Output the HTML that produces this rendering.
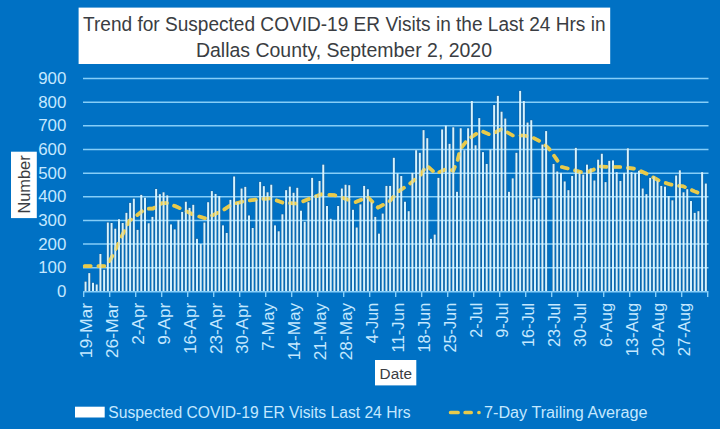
<!DOCTYPE html>
<html><head><meta charset="utf-8"><style>
html,body{margin:0;padding:0;background:#0071c4;width:720px;height:429px;overflow:hidden}
svg{display:block;font-family:"Liberation Sans",sans-serif}
</style></head><body>
<svg width="720" height="429" viewBox="0 0 720 429">
<rect x="0" y="0" width="720" height="429" fill="#0071c4"/>
<rect x="84.18" y="281.31" width="2.75" height="9.99" fill="#15558a"/>
<rect x="87.90" y="272.80" width="2.75" height="18.50" fill="#15558a"/>
<rect x="91.61" y="282.49" width="2.75" height="8.81" fill="#15558a"/>
<rect x="95.33" y="284.15" width="2.75" height="7.15" fill="#15558a"/>
<rect x="99.04" y="253.66" width="2.75" height="37.64" fill="#15558a"/>
<rect x="102.75" y="269.49" width="2.75" height="21.81" fill="#15558a"/>
<rect x="106.47" y="222.23" width="2.75" height="69.07" fill="#15558a"/>
<rect x="110.18" y="222.70" width="2.75" height="68.60" fill="#15558a"/>
<rect x="113.90" y="228.37" width="2.75" height="62.93" fill="#15558a"/>
<rect x="117.61" y="218.92" width="2.75" height="72.38" fill="#15558a"/>
<rect x="121.33" y="222.70" width="2.75" height="68.60" fill="#15558a"/>
<rect x="125.04" y="212.54" width="2.75" height="78.76" fill="#15558a"/>
<rect x="128.75" y="202.61" width="2.75" height="88.69" fill="#15558a"/>
<rect x="132.47" y="198.36" width="2.75" height="92.94" fill="#15558a"/>
<rect x="136.18" y="229.55" width="2.75" height="61.75" fill="#15558a"/>
<rect x="139.90" y="194.58" width="2.75" height="96.72" fill="#15558a"/>
<rect x="143.61" y="197.41" width="2.75" height="93.89" fill="#15558a"/>
<rect x="147.32" y="222.94" width="2.75" height="68.36" fill="#15558a"/>
<rect x="151.04" y="216.56" width="2.75" height="74.75" fill="#15558a"/>
<rect x="154.75" y="188.67" width="2.75" height="102.63" fill="#15558a"/>
<rect x="158.47" y="193.87" width="2.75" height="97.43" fill="#15558a"/>
<rect x="162.18" y="191.98" width="2.75" height="99.32" fill="#15558a"/>
<rect x="165.90" y="195.05" width="2.75" height="96.25" fill="#15558a"/>
<rect x="169.61" y="224.12" width="2.75" height="67.18" fill="#15558a"/>
<rect x="173.32" y="229.08" width="2.75" height="62.22" fill="#15558a"/>
<rect x="177.04" y="219.63" width="2.75" height="71.67" fill="#15558a"/>
<rect x="180.75" y="211.59" width="2.75" height="79.71" fill="#15558a"/>
<rect x="184.47" y="201.43" width="2.75" height="89.87" fill="#15558a"/>
<rect x="188.18" y="207.57" width="2.75" height="83.73" fill="#15558a"/>
<rect x="191.90" y="204.50" width="2.75" height="86.80" fill="#15558a"/>
<rect x="195.61" y="238.53" width="2.75" height="52.77" fill="#15558a"/>
<rect x="199.32" y="243.73" width="2.75" height="47.57" fill="#15558a"/>
<rect x="203.04" y="222.23" width="2.75" height="69.07" fill="#15558a"/>
<rect x="206.75" y="201.90" width="2.75" height="89.40" fill="#15558a"/>
<rect x="210.47" y="190.79" width="2.75" height="100.51" fill="#15558a"/>
<rect x="214.18" y="193.63" width="2.75" height="97.67" fill="#15558a"/>
<rect x="217.90" y="195.76" width="2.75" height="95.54" fill="#15558a"/>
<rect x="221.61" y="225.06" width="2.75" height="66.24" fill="#15558a"/>
<rect x="225.32" y="232.63" width="2.75" height="58.67" fill="#15558a"/>
<rect x="229.04" y="199.54" width="2.75" height="91.76" fill="#15558a"/>
<rect x="232.75" y="176.14" width="2.75" height="115.16" fill="#15558a"/>
<rect x="236.47" y="201.90" width="2.75" height="89.40" fill="#15558a"/>
<rect x="240.18" y="188.19" width="2.75" height="103.11" fill="#15558a"/>
<rect x="243.90" y="186.54" width="2.75" height="104.76" fill="#15558a"/>
<rect x="247.61" y="215.14" width="2.75" height="76.16" fill="#15558a"/>
<rect x="251.32" y="227.66" width="2.75" height="63.64" fill="#15558a"/>
<rect x="255.04" y="199.54" width="2.75" height="91.76" fill="#15558a"/>
<rect x="258.75" y="181.58" width="2.75" height="109.72" fill="#15558a"/>
<rect x="262.47" y="185.83" width="2.75" height="105.47" fill="#15558a"/>
<rect x="266.18" y="191.98" width="2.75" height="99.32" fill="#15558a"/>
<rect x="269.90" y="184.41" width="2.75" height="106.89" fill="#15558a"/>
<rect x="273.61" y="225.06" width="2.75" height="66.24" fill="#15558a"/>
<rect x="277.32" y="230.97" width="2.75" height="60.33" fill="#15558a"/>
<rect x="281.04" y="213.96" width="2.75" height="77.34" fill="#15558a"/>
<rect x="284.75" y="189.85" width="2.75" height="101.45" fill="#15558a"/>
<rect x="288.47" y="186.30" width="2.75" height="105.00" fill="#15558a"/>
<rect x="292.18" y="192.45" width="2.75" height="98.85" fill="#15558a"/>
<rect x="295.90" y="187.49" width="2.75" height="103.81" fill="#15558a"/>
<rect x="299.61" y="210.41" width="2.75" height="80.89" fill="#15558a"/>
<rect x="303.32" y="221.52" width="2.75" height="69.78" fill="#15558a"/>
<rect x="307.04" y="201.90" width="2.75" height="89.40" fill="#15558a"/>
<rect x="310.75" y="177.56" width="2.75" height="113.74" fill="#15558a"/>
<rect x="314.47" y="194.58" width="2.75" height="96.72" fill="#15558a"/>
<rect x="318.18" y="180.63" width="2.75" height="110.67" fill="#15558a"/>
<rect x="321.90" y="164.33" width="2.75" height="126.97" fill="#15558a"/>
<rect x="325.61" y="205.68" width="2.75" height="85.62" fill="#15558a"/>
<rect x="329.32" y="218.45" width="2.75" height="72.85" fill="#15558a"/>
<rect x="333.04" y="219.63" width="2.75" height="71.67" fill="#15558a"/>
<rect x="336.75" y="205.68" width="2.75" height="85.62" fill="#15558a"/>
<rect x="340.47" y="188.19" width="2.75" height="103.11" fill="#15558a"/>
<rect x="344.18" y="184.41" width="2.75" height="106.89" fill="#15558a"/>
<rect x="347.90" y="184.89" width="2.75" height="106.41" fill="#15558a"/>
<rect x="351.61" y="209.47" width="2.75" height="81.83" fill="#15558a"/>
<rect x="355.32" y="227.19" width="2.75" height="64.11" fill="#15558a"/>
<rect x="359.04" y="204.03" width="2.75" height="87.27" fill="#15558a"/>
<rect x="362.75" y="185.60" width="2.75" height="105.70" fill="#15558a"/>
<rect x="366.47" y="188.90" width="2.75" height="102.40" fill="#15558a"/>
<rect x="370.18" y="201.90" width="2.75" height="89.40" fill="#15558a"/>
<rect x="373.90" y="216.56" width="2.75" height="74.75" fill="#15558a"/>
<rect x="377.61" y="233.33" width="2.75" height="57.97" fill="#15558a"/>
<rect x="381.32" y="213.25" width="2.75" height="78.05" fill="#15558a"/>
<rect x="385.04" y="185.60" width="2.75" height="105.70" fill="#15558a"/>
<rect x="388.75" y="185.60" width="2.75" height="105.70" fill="#15558a"/>
<rect x="392.47" y="157.47" width="2.75" height="133.83" fill="#15558a"/>
<rect x="396.18" y="173.07" width="2.75" height="118.23" fill="#15558a"/>
<rect x="399.90" y="175.67" width="2.75" height="115.63" fill="#15558a"/>
<rect x="403.61" y="201.43" width="2.75" height="89.87" fill="#15558a"/>
<rect x="407.32" y="210.88" width="2.75" height="80.42" fill="#15558a"/>
<rect x="411.04" y="172.60" width="2.75" height="118.70" fill="#15558a"/>
<rect x="414.75" y="149.91" width="2.75" height="141.39" fill="#15558a"/>
<rect x="418.47" y="152.51" width="2.75" height="138.79" fill="#15558a"/>
<rect x="422.18" y="129.82" width="2.75" height="161.48" fill="#15558a"/>
<rect x="425.90" y="137.86" width="2.75" height="153.44" fill="#15558a"/>
<rect x="429.61" y="238.53" width="2.75" height="52.77" fill="#15558a"/>
<rect x="433.32" y="234.28" width="2.75" height="57.02" fill="#15558a"/>
<rect x="437.04" y="177.56" width="2.75" height="113.74" fill="#15558a"/>
<rect x="440.75" y="129.11" width="2.75" height="162.19" fill="#15558a"/>
<rect x="444.47" y="125.33" width="2.75" height="165.97" fill="#15558a"/>
<rect x="448.18" y="143.53" width="2.75" height="147.77" fill="#15558a"/>
<rect x="451.90" y="126.98" width="2.75" height="164.32" fill="#15558a"/>
<rect x="455.61" y="191.50" width="2.75" height="99.80" fill="#15558a"/>
<rect x="459.32" y="127.93" width="2.75" height="163.37" fill="#15558a"/>
<rect x="463.04" y="149.91" width="2.75" height="141.39" fill="#15558a"/>
<rect x="466.75" y="127.93" width="2.75" height="163.37" fill="#15558a"/>
<rect x="470.47" y="100.75" width="2.75" height="190.55" fill="#15558a"/>
<rect x="474.18" y="144.95" width="2.75" height="146.35" fill="#15558a"/>
<rect x="477.90" y="117.77" width="2.75" height="173.53" fill="#15558a"/>
<rect x="481.61" y="151.80" width="2.75" height="139.50" fill="#15558a"/>
<rect x="485.32" y="163.62" width="2.75" height="127.68" fill="#15558a"/>
<rect x="489.04" y="149.20" width="2.75" height="142.10" fill="#15558a"/>
<rect x="492.75" y="104.77" width="2.75" height="186.53" fill="#15558a"/>
<rect x="496.47" y="95.55" width="2.75" height="195.75" fill="#15558a"/>
<rect x="500.18" y="111.39" width="2.75" height="179.91" fill="#15558a"/>
<rect x="503.90" y="118.24" width="2.75" height="173.06" fill="#15558a"/>
<rect x="507.61" y="191.50" width="2.75" height="99.80" fill="#15558a"/>
<rect x="511.33" y="178.03" width="2.75" height="113.27" fill="#15558a"/>
<rect x="515.04" y="152.51" width="2.75" height="138.79" fill="#15558a"/>
<rect x="518.75" y="90.59" width="2.75" height="200.71" fill="#15558a"/>
<rect x="522.47" y="100.75" width="2.75" height="190.55" fill="#15558a"/>
<rect x="526.18" y="122.26" width="2.75" height="169.04" fill="#15558a"/>
<rect x="529.90" y="119.89" width="2.75" height="171.41" fill="#15558a"/>
<rect x="533.61" y="199.07" width="2.75" height="92.23" fill="#15558a"/>
<rect x="537.33" y="198.12" width="2.75" height="93.18" fill="#15558a"/>
<rect x="541.04" y="144.24" width="2.75" height="147.06" fill="#15558a"/>
<rect x="544.75" y="130.77" width="2.75" height="160.53" fill="#15558a"/>
<rect x="552.18" y="163.62" width="2.75" height="127.68" fill="#15558a"/>
<rect x="555.90" y="171.18" width="2.75" height="120.12" fill="#15558a"/>
<rect x="559.61" y="172.60" width="2.75" height="118.70" fill="#15558a"/>
<rect x="563.33" y="181.11" width="2.75" height="110.19" fill="#15558a"/>
<rect x="567.04" y="189.85" width="2.75" height="101.45" fill="#15558a"/>
<rect x="570.75" y="175.67" width="2.75" height="115.63" fill="#15558a"/>
<rect x="574.47" y="147.55" width="2.75" height="143.75" fill="#15558a"/>
<rect x="578.18" y="171.18" width="2.75" height="120.12" fill="#15558a"/>
<rect x="581.90" y="174.25" width="2.75" height="117.05" fill="#15558a"/>
<rect x="585.61" y="164.33" width="2.75" height="126.97" fill="#15558a"/>
<rect x="589.33" y="168.11" width="2.75" height="123.19" fill="#15558a"/>
<rect x="593.04" y="180.16" width="2.75" height="111.14" fill="#15558a"/>
<rect x="596.75" y="159.36" width="2.75" height="131.94" fill="#15558a"/>
<rect x="600.47" y="153.45" width="2.75" height="137.85" fill="#15558a"/>
<rect x="604.18" y="181.81" width="2.75" height="109.49" fill="#15558a"/>
<rect x="607.90" y="160.54" width="2.75" height="130.76" fill="#15558a"/>
<rect x="611.61" y="160.07" width="2.75" height="131.23" fill="#15558a"/>
<rect x="615.33" y="171.89" width="2.75" height="119.41" fill="#15558a"/>
<rect x="619.04" y="180.63" width="2.75" height="110.67" fill="#15558a"/>
<rect x="622.75" y="172.60" width="2.75" height="118.70" fill="#15558a"/>
<rect x="626.47" y="148.02" width="2.75" height="143.28" fill="#15558a"/>
<rect x="630.18" y="171.89" width="2.75" height="119.41" fill="#15558a"/>
<rect x="633.90" y="172.60" width="2.75" height="118.70" fill="#15558a"/>
<rect x="637.61" y="170.47" width="2.75" height="120.83" fill="#15558a"/>
<rect x="641.33" y="188.19" width="2.75" height="103.11" fill="#15558a"/>
<rect x="645.04" y="193.87" width="2.75" height="97.43" fill="#15558a"/>
<rect x="648.75" y="177.56" width="2.75" height="113.74" fill="#15558a"/>
<rect x="652.47" y="176.14" width="2.75" height="115.16" fill="#15558a"/>
<rect x="656.18" y="180.16" width="2.75" height="111.14" fill="#15558a"/>
<rect x="659.90" y="185.60" width="2.75" height="105.70" fill="#15558a"/>
<rect x="663.61" y="186.30" width="2.75" height="105.00" fill="#15558a"/>
<rect x="667.33" y="195.76" width="2.75" height="95.54" fill="#15558a"/>
<rect x="671.04" y="200.01" width="2.75" height="91.29" fill="#15558a"/>
<rect x="674.75" y="175.20" width="2.75" height="116.10" fill="#15558a"/>
<rect x="678.47" y="170.00" width="2.75" height="121.30" fill="#15558a"/>
<rect x="682.18" y="191.98" width="2.75" height="99.32" fill="#15558a"/>
<rect x="685.90" y="188.90" width="2.75" height="102.40" fill="#15558a"/>
<rect x="689.61" y="200.72" width="2.75" height="90.58" fill="#15558a"/>
<rect x="693.33" y="212.54" width="2.75" height="78.76" fill="#15558a"/>
<rect x="697.04" y="210.88" width="2.75" height="80.42" fill="#15558a"/>
<rect x="700.75" y="171.89" width="2.75" height="119.41" fill="#15558a"/>
<rect x="704.47" y="183.23" width="2.75" height="108.07" fill="#15558a"/>
<line x1="83" x2="708.5" y1="267.67" y2="267.67" stroke="#86cef8" stroke-width="1.5"/>
<line x1="83" x2="708.5" y1="244.03" y2="244.03" stroke="#86cef8" stroke-width="1.5"/>
<line x1="83" x2="708.5" y1="220.40" y2="220.40" stroke="#86cef8" stroke-width="1.5"/>
<line x1="83" x2="708.5" y1="196.77" y2="196.77" stroke="#86cef8" stroke-width="1.5"/>
<line x1="83" x2="708.5" y1="173.13" y2="173.13" stroke="#86cef8" stroke-width="1.5"/>
<line x1="83" x2="708.5" y1="149.50" y2="149.50" stroke="#86cef8" stroke-width="1.5"/>
<line x1="83" x2="708.5" y1="125.87" y2="125.87" stroke="#86cef8" stroke-width="1.5"/>
<line x1="83" x2="708.5" y1="102.23" y2="102.23" stroke="#86cef8" stroke-width="1.5"/>
<line x1="83" x2="708.5" y1="78.60" y2="78.60" stroke="#86cef8" stroke-width="1.5"/>
<polyline points="84.70,266.10 106.10,266.10 110.80,259.00 117.30,246.00 122.90,233.80 129.40,220.80 136.00,216.10 145.30,208.70 152.80,208.70 162.10,203.10 167.70,203.10 175.60,206.30 184.00,210.10 194.30,215.10 205.40,218.30 212.90,215.10 222.20,210.80 231.60,204.50 244.60,201.10 257.70,199.30 271.20,198.40 282.40,202.60 297.30,203.60 310.40,198.40 321.60,194.30 334.60,195.20 345.80,198.90 355.60,202.00 367.70,197.00 378.00,207.60 389.20,201.60 398.50,191.40 409.70,183.90 420.90,174.60 426.50,165.30 435.80,173.70 448.40,168.20 453.10,171.00 457.70,159.80 460.50,148.60 468.00,139.30 477.30,133.20 482.00,131.20 490.20,134.80 501.60,129.00 512.80,135.50 524.00,135.50 531.90,137.10 541.20,141.80 548.70,148.30 556.10,158.60 561.70,167.00 572.90,169.80 584.10,173.10 593.40,169.80 599.00,166.40 610.20,167.00 621.40,167.00 634.90,168.70 648.00,174.30 659.20,180.80 670.40,184.50 683.40,186.40 694.60,191.40 702.10,194.40" fill="none" stroke="#e8ca4c" stroke-width="3.7" stroke-dasharray="6 7.7" stroke-linecap="round" stroke-linejoin="round"/>
<rect x="84.56" y="281.61" width="2.0" height="9.69" fill="#d6f3ff"/>
<rect x="88.27" y="273.10" width="2.0" height="18.20" fill="#d6f3ff"/>
<rect x="91.99" y="282.79" width="2.0" height="8.51" fill="#d6f3ff"/>
<rect x="95.70" y="284.45" width="2.0" height="6.85" fill="#d6f3ff"/>
<rect x="99.41" y="253.96" width="2.0" height="37.34" fill="#d6f3ff"/>
<rect x="103.13" y="269.79" width="2.0" height="21.51" fill="#d6f3ff"/>
<rect x="106.84" y="222.53" width="2.0" height="68.77" fill="#d6f3ff"/>
<rect x="110.56" y="223.00" width="2.0" height="68.30" fill="#d6f3ff"/>
<rect x="114.27" y="228.67" width="2.0" height="62.63" fill="#d6f3ff"/>
<rect x="117.99" y="219.22" width="2.0" height="72.08" fill="#d6f3ff"/>
<rect x="121.70" y="223.00" width="2.0" height="68.30" fill="#d6f3ff"/>
<rect x="125.41" y="212.84" width="2.0" height="78.46" fill="#d6f3ff"/>
<rect x="129.13" y="202.91" width="2.0" height="88.39" fill="#d6f3ff"/>
<rect x="132.84" y="198.66" width="2.0" height="92.64" fill="#d6f3ff"/>
<rect x="136.56" y="229.85" width="2.0" height="61.45" fill="#d6f3ff"/>
<rect x="140.27" y="194.88" width="2.0" height="96.42" fill="#d6f3ff"/>
<rect x="143.99" y="197.71" width="2.0" height="93.59" fill="#d6f3ff"/>
<rect x="147.70" y="223.24" width="2.0" height="68.06" fill="#d6f3ff"/>
<rect x="151.41" y="216.86" width="2.0" height="74.45" fill="#d6f3ff"/>
<rect x="155.13" y="188.97" width="2.0" height="102.33" fill="#d6f3ff"/>
<rect x="158.84" y="194.17" width="2.0" height="97.13" fill="#d6f3ff"/>
<rect x="162.56" y="192.28" width="2.0" height="99.02" fill="#d6f3ff"/>
<rect x="166.27" y="195.35" width="2.0" height="95.95" fill="#d6f3ff"/>
<rect x="169.99" y="224.42" width="2.0" height="66.88" fill="#d6f3ff"/>
<rect x="173.70" y="229.38" width="2.0" height="61.92" fill="#d6f3ff"/>
<rect x="177.41" y="219.93" width="2.0" height="71.37" fill="#d6f3ff"/>
<rect x="181.13" y="211.89" width="2.0" height="79.41" fill="#d6f3ff"/>
<rect x="184.84" y="201.73" width="2.0" height="89.57" fill="#d6f3ff"/>
<rect x="188.56" y="207.87" width="2.0" height="83.43" fill="#d6f3ff"/>
<rect x="192.27" y="204.80" width="2.0" height="86.50" fill="#d6f3ff"/>
<rect x="195.99" y="238.83" width="2.0" height="52.47" fill="#d6f3ff"/>
<rect x="199.70" y="244.03" width="2.0" height="47.27" fill="#d6f3ff"/>
<rect x="203.41" y="222.53" width="2.0" height="68.77" fill="#d6f3ff"/>
<rect x="207.13" y="202.20" width="2.0" height="89.10" fill="#d6f3ff"/>
<rect x="210.84" y="191.09" width="2.0" height="100.21" fill="#d6f3ff"/>
<rect x="214.56" y="193.93" width="2.0" height="97.37" fill="#d6f3ff"/>
<rect x="218.27" y="196.06" width="2.0" height="95.24" fill="#d6f3ff"/>
<rect x="221.99" y="225.36" width="2.0" height="65.94" fill="#d6f3ff"/>
<rect x="225.70" y="232.93" width="2.0" height="58.37" fill="#d6f3ff"/>
<rect x="229.41" y="199.84" width="2.0" height="91.46" fill="#d6f3ff"/>
<rect x="233.13" y="176.44" width="2.0" height="114.86" fill="#d6f3ff"/>
<rect x="236.84" y="202.20" width="2.0" height="89.10" fill="#d6f3ff"/>
<rect x="240.56" y="188.50" width="2.0" height="102.81" fill="#d6f3ff"/>
<rect x="244.27" y="186.84" width="2.0" height="104.46" fill="#d6f3ff"/>
<rect x="247.99" y="215.44" width="2.0" height="75.86" fill="#d6f3ff"/>
<rect x="251.70" y="227.96" width="2.0" height="63.34" fill="#d6f3ff"/>
<rect x="255.41" y="199.84" width="2.0" height="91.46" fill="#d6f3ff"/>
<rect x="259.13" y="181.88" width="2.0" height="109.42" fill="#d6f3ff"/>
<rect x="262.84" y="186.13" width="2.0" height="105.17" fill="#d6f3ff"/>
<rect x="266.56" y="192.28" width="2.0" height="99.02" fill="#d6f3ff"/>
<rect x="270.27" y="184.71" width="2.0" height="106.59" fill="#d6f3ff"/>
<rect x="273.99" y="225.36" width="2.0" height="65.94" fill="#d6f3ff"/>
<rect x="277.70" y="231.27" width="2.0" height="60.03" fill="#d6f3ff"/>
<rect x="281.41" y="214.26" width="2.0" height="77.04" fill="#d6f3ff"/>
<rect x="285.13" y="190.15" width="2.0" height="101.15" fill="#d6f3ff"/>
<rect x="288.84" y="186.60" width="2.0" height="104.70" fill="#d6f3ff"/>
<rect x="292.56" y="192.75" width="2.0" height="98.55" fill="#d6f3ff"/>
<rect x="296.27" y="187.79" width="2.0" height="103.51" fill="#d6f3ff"/>
<rect x="299.99" y="210.71" width="2.0" height="80.59" fill="#d6f3ff"/>
<rect x="303.70" y="221.82" width="2.0" height="69.48" fill="#d6f3ff"/>
<rect x="307.41" y="202.20" width="2.0" height="89.10" fill="#d6f3ff"/>
<rect x="311.13" y="177.86" width="2.0" height="113.44" fill="#d6f3ff"/>
<rect x="314.84" y="194.88" width="2.0" height="96.42" fill="#d6f3ff"/>
<rect x="318.56" y="180.93" width="2.0" height="110.37" fill="#d6f3ff"/>
<rect x="322.27" y="164.63" width="2.0" height="126.67" fill="#d6f3ff"/>
<rect x="325.99" y="205.98" width="2.0" height="85.32" fill="#d6f3ff"/>
<rect x="329.70" y="218.75" width="2.0" height="72.55" fill="#d6f3ff"/>
<rect x="333.41" y="219.93" width="2.0" height="71.37" fill="#d6f3ff"/>
<rect x="337.13" y="205.98" width="2.0" height="85.32" fill="#d6f3ff"/>
<rect x="340.84" y="188.50" width="2.0" height="102.81" fill="#d6f3ff"/>
<rect x="344.56" y="184.71" width="2.0" height="106.59" fill="#d6f3ff"/>
<rect x="348.27" y="185.19" width="2.0" height="106.11" fill="#d6f3ff"/>
<rect x="351.99" y="209.77" width="2.0" height="81.53" fill="#d6f3ff"/>
<rect x="355.70" y="227.49" width="2.0" height="63.81" fill="#d6f3ff"/>
<rect x="359.41" y="204.33" width="2.0" height="86.97" fill="#d6f3ff"/>
<rect x="363.13" y="185.90" width="2.0" height="105.40" fill="#d6f3ff"/>
<rect x="366.84" y="189.20" width="2.0" height="102.10" fill="#d6f3ff"/>
<rect x="370.56" y="202.20" width="2.0" height="89.10" fill="#d6f3ff"/>
<rect x="374.27" y="216.86" width="2.0" height="74.45" fill="#d6f3ff"/>
<rect x="377.99" y="233.63" width="2.0" height="57.67" fill="#d6f3ff"/>
<rect x="381.70" y="213.55" width="2.0" height="77.75" fill="#d6f3ff"/>
<rect x="385.41" y="185.90" width="2.0" height="105.40" fill="#d6f3ff"/>
<rect x="389.13" y="185.90" width="2.0" height="105.40" fill="#d6f3ff"/>
<rect x="392.84" y="157.77" width="2.0" height="133.53" fill="#d6f3ff"/>
<rect x="396.56" y="173.37" width="2.0" height="117.93" fill="#d6f3ff"/>
<rect x="400.27" y="175.97" width="2.0" height="115.33" fill="#d6f3ff"/>
<rect x="403.99" y="201.73" width="2.0" height="89.57" fill="#d6f3ff"/>
<rect x="407.70" y="211.18" width="2.0" height="80.12" fill="#d6f3ff"/>
<rect x="411.41" y="172.90" width="2.0" height="118.40" fill="#d6f3ff"/>
<rect x="415.13" y="150.21" width="2.0" height="141.09" fill="#d6f3ff"/>
<rect x="418.84" y="152.81" width="2.0" height="138.49" fill="#d6f3ff"/>
<rect x="422.56" y="130.12" width="2.0" height="161.18" fill="#d6f3ff"/>
<rect x="426.27" y="138.16" width="2.0" height="153.14" fill="#d6f3ff"/>
<rect x="429.99" y="238.83" width="2.0" height="52.47" fill="#d6f3ff"/>
<rect x="433.70" y="234.58" width="2.0" height="56.72" fill="#d6f3ff"/>
<rect x="437.41" y="177.86" width="2.0" height="113.44" fill="#d6f3ff"/>
<rect x="441.13" y="129.41" width="2.0" height="161.89" fill="#d6f3ff"/>
<rect x="444.84" y="125.63" width="2.0" height="165.67" fill="#d6f3ff"/>
<rect x="448.56" y="143.83" width="2.0" height="147.47" fill="#d6f3ff"/>
<rect x="452.27" y="127.28" width="2.0" height="164.02" fill="#d6f3ff"/>
<rect x="455.99" y="191.80" width="2.0" height="99.50" fill="#d6f3ff"/>
<rect x="459.70" y="128.23" width="2.0" height="163.07" fill="#d6f3ff"/>
<rect x="463.41" y="150.21" width="2.0" height="141.09" fill="#d6f3ff"/>
<rect x="467.13" y="128.23" width="2.0" height="163.07" fill="#d6f3ff"/>
<rect x="470.84" y="101.05" width="2.0" height="190.25" fill="#d6f3ff"/>
<rect x="474.56" y="145.25" width="2.0" height="146.05" fill="#d6f3ff"/>
<rect x="478.27" y="118.07" width="2.0" height="173.23" fill="#d6f3ff"/>
<rect x="481.99" y="152.10" width="2.0" height="139.20" fill="#d6f3ff"/>
<rect x="485.70" y="163.92" width="2.0" height="127.38" fill="#d6f3ff"/>
<rect x="489.41" y="149.50" width="2.0" height="141.80" fill="#d6f3ff"/>
<rect x="493.13" y="105.07" width="2.0" height="186.23" fill="#d6f3ff"/>
<rect x="496.84" y="95.85" width="2.0" height="195.45" fill="#d6f3ff"/>
<rect x="500.56" y="111.69" width="2.0" height="179.61" fill="#d6f3ff"/>
<rect x="504.27" y="118.54" width="2.0" height="172.76" fill="#d6f3ff"/>
<rect x="507.99" y="191.80" width="2.0" height="99.50" fill="#d6f3ff"/>
<rect x="511.70" y="178.33" width="2.0" height="112.97" fill="#d6f3ff"/>
<rect x="515.41" y="152.81" width="2.0" height="138.49" fill="#d6f3ff"/>
<rect x="519.13" y="90.89" width="2.0" height="200.41" fill="#d6f3ff"/>
<rect x="522.84" y="101.05" width="2.0" height="190.25" fill="#d6f3ff"/>
<rect x="526.56" y="122.56" width="2.0" height="168.74" fill="#d6f3ff"/>
<rect x="530.27" y="120.19" width="2.0" height="171.11" fill="#d6f3ff"/>
<rect x="533.99" y="199.37" width="2.0" height="91.93" fill="#d6f3ff"/>
<rect x="537.70" y="198.42" width="2.0" height="92.88" fill="#d6f3ff"/>
<rect x="541.41" y="144.54" width="2.0" height="146.76" fill="#d6f3ff"/>
<rect x="545.13" y="131.07" width="2.0" height="160.23" fill="#d6f3ff"/>
<rect x="552.56" y="163.92" width="2.0" height="127.38" fill="#d6f3ff"/>
<rect x="556.27" y="171.48" width="2.0" height="119.82" fill="#d6f3ff"/>
<rect x="559.99" y="172.90" width="2.0" height="118.40" fill="#d6f3ff"/>
<rect x="563.70" y="181.41" width="2.0" height="109.89" fill="#d6f3ff"/>
<rect x="567.41" y="190.15" width="2.0" height="101.15" fill="#d6f3ff"/>
<rect x="571.13" y="175.97" width="2.0" height="115.33" fill="#d6f3ff"/>
<rect x="574.84" y="147.85" width="2.0" height="143.45" fill="#d6f3ff"/>
<rect x="578.56" y="171.48" width="2.0" height="119.82" fill="#d6f3ff"/>
<rect x="582.27" y="174.55" width="2.0" height="116.75" fill="#d6f3ff"/>
<rect x="585.99" y="164.63" width="2.0" height="126.67" fill="#d6f3ff"/>
<rect x="589.70" y="168.41" width="2.0" height="122.89" fill="#d6f3ff"/>
<rect x="593.41" y="180.46" width="2.0" height="110.84" fill="#d6f3ff"/>
<rect x="597.13" y="159.66" width="2.0" height="131.64" fill="#d6f3ff"/>
<rect x="600.84" y="153.75" width="2.0" height="137.55" fill="#d6f3ff"/>
<rect x="604.56" y="182.11" width="2.0" height="109.19" fill="#d6f3ff"/>
<rect x="608.27" y="160.84" width="2.0" height="130.46" fill="#d6f3ff"/>
<rect x="611.99" y="160.37" width="2.0" height="130.93" fill="#d6f3ff"/>
<rect x="615.70" y="172.19" width="2.0" height="119.11" fill="#d6f3ff"/>
<rect x="619.41" y="180.93" width="2.0" height="110.37" fill="#d6f3ff"/>
<rect x="623.13" y="172.90" width="2.0" height="118.40" fill="#d6f3ff"/>
<rect x="626.84" y="148.32" width="2.0" height="142.98" fill="#d6f3ff"/>
<rect x="630.56" y="172.19" width="2.0" height="119.11" fill="#d6f3ff"/>
<rect x="634.27" y="172.90" width="2.0" height="118.40" fill="#d6f3ff"/>
<rect x="637.99" y="170.77" width="2.0" height="120.53" fill="#d6f3ff"/>
<rect x="641.70" y="188.50" width="2.0" height="102.81" fill="#d6f3ff"/>
<rect x="645.41" y="194.17" width="2.0" height="97.13" fill="#d6f3ff"/>
<rect x="649.13" y="177.86" width="2.0" height="113.44" fill="#d6f3ff"/>
<rect x="652.84" y="176.44" width="2.0" height="114.86" fill="#d6f3ff"/>
<rect x="656.56" y="180.46" width="2.0" height="110.84" fill="#d6f3ff"/>
<rect x="660.27" y="185.90" width="2.0" height="105.40" fill="#d6f3ff"/>
<rect x="663.99" y="186.60" width="2.0" height="104.70" fill="#d6f3ff"/>
<rect x="667.70" y="196.06" width="2.0" height="95.24" fill="#d6f3ff"/>
<rect x="671.41" y="200.31" width="2.0" height="90.99" fill="#d6f3ff"/>
<rect x="675.13" y="175.50" width="2.0" height="115.80" fill="#d6f3ff"/>
<rect x="678.84" y="170.30" width="2.0" height="121.00" fill="#d6f3ff"/>
<rect x="682.56" y="192.28" width="2.0" height="99.02" fill="#d6f3ff"/>
<rect x="686.27" y="189.20" width="2.0" height="102.10" fill="#d6f3ff"/>
<rect x="689.99" y="201.02" width="2.0" height="90.28" fill="#d6f3ff"/>
<rect x="693.70" y="212.84" width="2.0" height="78.46" fill="#d6f3ff"/>
<rect x="697.41" y="211.18" width="2.0" height="80.12" fill="#d6f3ff"/>
<rect x="701.13" y="172.19" width="2.0" height="119.11" fill="#d6f3ff"/>
<rect x="704.84" y="183.53" width="2.0" height="107.77" fill="#d6f3ff"/>
<polyline points="84.70,266.10 106.10,266.10 110.80,259.00 117.30,246.00 122.90,233.80 129.40,220.80 136.00,216.10 145.30,208.70 152.80,208.70 162.10,203.10 167.70,203.10 175.60,206.30 184.00,210.10 194.30,215.10 205.40,218.30 212.90,215.10 222.20,210.80 231.60,204.50 244.60,201.10 257.70,199.30 271.20,198.40 282.40,202.60 297.30,203.60 310.40,198.40 321.60,194.30 334.60,195.20 345.80,198.90 355.60,202.00 367.70,197.00 378.00,207.60 389.20,201.60 398.50,191.40 409.70,183.90 420.90,174.60 426.50,165.30 435.80,173.70 448.40,168.20 453.10,171.00 457.70,159.80 460.50,148.60 468.00,139.30 477.30,133.20 482.00,131.20 490.20,134.80 501.60,129.00 512.80,135.50 524.00,135.50 531.90,137.10 541.20,141.80 548.70,148.30 556.10,158.60 561.70,167.00 572.90,169.80 584.10,173.10 593.40,169.80 599.00,166.40 610.20,167.00 621.40,167.00 634.90,168.70 648.00,174.30 659.20,180.80 670.40,184.50 683.40,186.40 694.60,191.40 702.10,194.40" fill="none" stroke="#e8ca4c" stroke-opacity="0.4" stroke-width="3.7" stroke-dasharray="6 7.7" stroke-linecap="round" stroke-linejoin="round"/>
<line x1="83.5" x2="708.2" y1="291.80" y2="291.80" stroke="#86cef8" stroke-width="1.4"/>
<line x1="83.70" x2="83.70" y1="291.30" y2="296.90" stroke="#86cef8" stroke-width="1.4"/>
<line x1="109.70" x2="109.70" y1="291.30" y2="296.90" stroke="#86cef8" stroke-width="1.4"/>
<line x1="135.70" x2="135.70" y1="291.30" y2="296.90" stroke="#86cef8" stroke-width="1.4"/>
<line x1="161.70" x2="161.70" y1="291.30" y2="296.90" stroke="#86cef8" stroke-width="1.4"/>
<line x1="187.70" x2="187.70" y1="291.30" y2="296.90" stroke="#86cef8" stroke-width="1.4"/>
<line x1="213.70" x2="213.70" y1="291.30" y2="296.90" stroke="#86cef8" stroke-width="1.4"/>
<line x1="239.70" x2="239.70" y1="291.30" y2="296.90" stroke="#86cef8" stroke-width="1.4"/>
<line x1="265.70" x2="265.70" y1="291.30" y2="296.90" stroke="#86cef8" stroke-width="1.4"/>
<line x1="291.70" x2="291.70" y1="291.30" y2="296.90" stroke="#86cef8" stroke-width="1.4"/>
<line x1="317.70" x2="317.70" y1="291.30" y2="296.90" stroke="#86cef8" stroke-width="1.4"/>
<line x1="343.70" x2="343.70" y1="291.30" y2="296.90" stroke="#86cef8" stroke-width="1.4"/>
<line x1="369.70" x2="369.70" y1="291.30" y2="296.90" stroke="#86cef8" stroke-width="1.4"/>
<line x1="395.70" x2="395.70" y1="291.30" y2="296.90" stroke="#86cef8" stroke-width="1.4"/>
<line x1="421.70" x2="421.70" y1="291.30" y2="296.90" stroke="#86cef8" stroke-width="1.4"/>
<line x1="447.70" x2="447.70" y1="291.30" y2="296.90" stroke="#86cef8" stroke-width="1.4"/>
<line x1="473.70" x2="473.70" y1="291.30" y2="296.90" stroke="#86cef8" stroke-width="1.4"/>
<line x1="499.70" x2="499.70" y1="291.30" y2="296.90" stroke="#86cef8" stroke-width="1.4"/>
<line x1="525.70" x2="525.70" y1="291.30" y2="296.90" stroke="#86cef8" stroke-width="1.4"/>
<line x1="551.70" x2="551.70" y1="291.30" y2="296.90" stroke="#86cef8" stroke-width="1.4"/>
<line x1="577.70" x2="577.70" y1="291.30" y2="296.90" stroke="#86cef8" stroke-width="1.4"/>
<line x1="603.70" x2="603.70" y1="291.30" y2="296.90" stroke="#86cef8" stroke-width="1.4"/>
<line x1="629.70" x2="629.70" y1="291.30" y2="296.90" stroke="#86cef8" stroke-width="1.4"/>
<line x1="655.70" x2="655.70" y1="291.30" y2="296.90" stroke="#86cef8" stroke-width="1.4"/>
<line x1="681.70" x2="681.70" y1="291.30" y2="296.90" stroke="#86cef8" stroke-width="1.4"/>
<line x1="707.70" x2="707.70" y1="291.30" y2="296.90" stroke="#86cef8" stroke-width="1.4"/>
<text x="66.3" y="296.90" text-anchor="end" font-size="15.6" fill="#c4e8ff" textLength="9.38" lengthAdjust="spacingAndGlyphs">0</text>
<text x="66.3" y="273.27" text-anchor="end" font-size="15.6" fill="#c4e8ff" textLength="28.14" lengthAdjust="spacingAndGlyphs">100</text>
<text x="66.3" y="249.63" text-anchor="end" font-size="15.6" fill="#c4e8ff" textLength="28.14" lengthAdjust="spacingAndGlyphs">200</text>
<text x="66.3" y="226.00" text-anchor="end" font-size="15.6" fill="#c4e8ff" textLength="28.14" lengthAdjust="spacingAndGlyphs">300</text>
<text x="66.3" y="202.37" text-anchor="end" font-size="15.6" fill="#c4e8ff" textLength="28.14" lengthAdjust="spacingAndGlyphs">400</text>
<text x="66.3" y="178.73" text-anchor="end" font-size="15.6" fill="#c4e8ff" textLength="28.14" lengthAdjust="spacingAndGlyphs">500</text>
<text x="66.3" y="155.10" text-anchor="end" font-size="15.6" fill="#c4e8ff" textLength="28.14" lengthAdjust="spacingAndGlyphs">600</text>
<text x="66.3" y="131.47" text-anchor="end" font-size="15.6" fill="#c4e8ff" textLength="28.14" lengthAdjust="spacingAndGlyphs">700</text>
<text x="66.3" y="107.83" text-anchor="end" font-size="15.6" fill="#c4e8ff" textLength="28.14" lengthAdjust="spacingAndGlyphs">800</text>
<text x="66.3" y="84.20" text-anchor="end" font-size="15.6" fill="#c4e8ff" textLength="28.14" lengthAdjust="spacingAndGlyphs">900</text>
<text transform="translate(92.16,302.8) rotate(-90)" text-anchor="end" font-size="16.5" fill="#c4e8ff" textLength="55.56" lengthAdjust="spacingAndGlyphs">19-Mar</text>
<text transform="translate(118.16,302.8) rotate(-90)" text-anchor="end" font-size="16.5" fill="#c4e8ff" textLength="55.56" lengthAdjust="spacingAndGlyphs">26-Mar</text>
<text transform="translate(144.16,302.8) rotate(-90)" text-anchor="end" font-size="16.5" fill="#c4e8ff" textLength="41.92" lengthAdjust="spacingAndGlyphs">2-Apr</text>
<text transform="translate(170.16,302.8) rotate(-90)" text-anchor="end" font-size="16.5" fill="#c4e8ff" textLength="41.92" lengthAdjust="spacingAndGlyphs">9-Apr</text>
<text transform="translate(196.16,302.8) rotate(-90)" text-anchor="end" font-size="16.5" fill="#c4e8ff" textLength="51.30" lengthAdjust="spacingAndGlyphs">16-Apr</text>
<text transform="translate(222.16,302.8) rotate(-90)" text-anchor="end" font-size="16.5" fill="#c4e8ff" textLength="51.30" lengthAdjust="spacingAndGlyphs">23-Apr</text>
<text transform="translate(248.16,302.8) rotate(-90)" text-anchor="end" font-size="16.5" fill="#c4e8ff" textLength="51.30" lengthAdjust="spacingAndGlyphs">30-Apr</text>
<text transform="translate(274.16,302.8) rotate(-90)" text-anchor="end" font-size="16.5" fill="#c4e8ff" textLength="48.08" lengthAdjust="spacingAndGlyphs">7-May</text>
<text transform="translate(300.16,302.8) rotate(-90)" text-anchor="end" font-size="16.5" fill="#c4e8ff" textLength="57.46" lengthAdjust="spacingAndGlyphs">14-May</text>
<text transform="translate(326.16,302.8) rotate(-90)" text-anchor="end" font-size="16.5" fill="#c4e8ff" textLength="57.46" lengthAdjust="spacingAndGlyphs">21-May</text>
<text transform="translate(352.16,302.8) rotate(-90)" text-anchor="end" font-size="16.5" fill="#c4e8ff" textLength="57.46" lengthAdjust="spacingAndGlyphs">28-May</text>
<text transform="translate(378.16,302.8) rotate(-90)" text-anchor="end" font-size="16.5" fill="#c4e8ff" textLength="40.37" lengthAdjust="spacingAndGlyphs">4-Jun</text>
<text transform="translate(404.16,302.8) rotate(-90)" text-anchor="end" font-size="16.5" fill="#c4e8ff" textLength="49.75" lengthAdjust="spacingAndGlyphs">11-Jun</text>
<text transform="translate(430.16,302.8) rotate(-90)" text-anchor="end" font-size="16.5" fill="#c4e8ff" textLength="49.75" lengthAdjust="spacingAndGlyphs">18-Jun</text>
<text transform="translate(456.16,302.8) rotate(-90)" text-anchor="end" font-size="16.5" fill="#c4e8ff" textLength="49.75" lengthAdjust="spacingAndGlyphs">25-Jun</text>
<text transform="translate(482.16,302.8) rotate(-90)" text-anchor="end" font-size="16.5" fill="#c4e8ff" textLength="34.89" lengthAdjust="spacingAndGlyphs">2-Jul</text>
<text transform="translate(508.16,302.8) rotate(-90)" text-anchor="end" font-size="16.5" fill="#c4e8ff" textLength="34.89" lengthAdjust="spacingAndGlyphs">9-Jul</text>
<text transform="translate(534.16,302.8) rotate(-90)" text-anchor="end" font-size="16.5" fill="#c4e8ff" textLength="44.27" lengthAdjust="spacingAndGlyphs">16-Jul</text>
<text transform="translate(560.16,302.8) rotate(-90)" text-anchor="end" font-size="16.5" fill="#c4e8ff" textLength="44.27" lengthAdjust="spacingAndGlyphs">23-Jul</text>
<text transform="translate(586.16,302.8) rotate(-90)" text-anchor="end" font-size="16.5" fill="#c4e8ff" textLength="44.27" lengthAdjust="spacingAndGlyphs">30-Jul</text>
<text transform="translate(612.16,302.8) rotate(-90)" text-anchor="end" font-size="16.5" fill="#c4e8ff" textLength="44.18" lengthAdjust="spacingAndGlyphs">6-Aug</text>
<text transform="translate(638.16,302.8) rotate(-90)" text-anchor="end" font-size="16.5" fill="#c4e8ff" textLength="53.56" lengthAdjust="spacingAndGlyphs">13-Aug</text>
<text transform="translate(664.16,302.8) rotate(-90)" text-anchor="end" font-size="16.5" fill="#c4e8ff" textLength="53.56" lengthAdjust="spacingAndGlyphs">20-Aug</text>
<text transform="translate(690.16,302.8) rotate(-90)" text-anchor="end" font-size="16.5" fill="#c4e8ff" textLength="53.56" lengthAdjust="spacingAndGlyphs">27-Aug</text>
<rect x="78.6" y="7.6" width="531.6" height="56.4" fill="#ffffff"/>
<text x="83" y="30.6" font-size="20" fill="#3a3d42" textLength="522.5" lengthAdjust="spacingAndGlyphs">Trend for Suspected COVID-19 ER Visits in the Last 24 Hrs in</text>
<text x="196" y="56.5" font-size="19.7" fill="#3a3d42" textLength="296" lengthAdjust="spacingAndGlyphs">Dallas County, September 2, 2020</text>
<rect x="11" y="151.7" width="25.8" height="66.4" fill="#ffffff"/>
<text transform="translate(30.3,213.6) rotate(-90)" font-size="16.3" fill="#3a3d42" textLength="58.3" lengthAdjust="spacingAndGlyphs">Number</text>
<rect x="375" y="360" width="41.3" height="25.4" fill="#ffffff"/>
<text x="379.6" y="378.75" font-size="15.5" fill="#3a3d42" textLength="32.4" lengthAdjust="spacingAndGlyphs">Date</text>
<rect x="75" y="406.7" width="29.7" height="10.8" fill="#ffffff"/>
<text x="108.3" y="417.6" font-size="16" fill="#c4e8ff" textLength="302.2" lengthAdjust="spacingAndGlyphs">Suspected COVID-19 ER Visits Last 24 Hrs</text>
<line x1="450.6" x2="481" y1="412.5" y2="412.5" stroke="#e8ca4c" stroke-width="3.7" stroke-linecap="round" stroke-dasharray="7.45 7.1 6 7.8 0.01 50" />
<text x="484" y="417.5" font-size="16" fill="#c4e8ff" textLength="163.5" lengthAdjust="spacingAndGlyphs">7-Day Trailing Average</text>
</svg>
</body></html>
